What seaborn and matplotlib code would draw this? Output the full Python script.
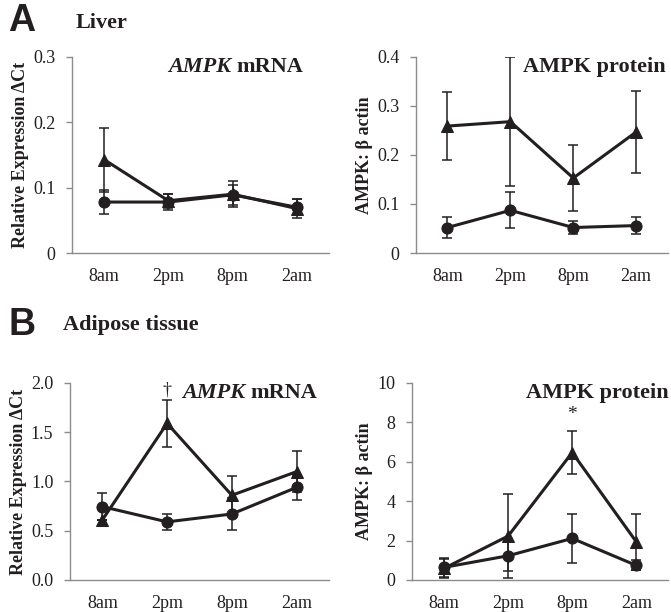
import numpy as np
import pandas as pd
import matplotlib
matplotlib.use("Agg")
import matplotlib.pyplot as plt
import seaborn as sns

sns.set_style("white")
plt.rcParams['font.family'] = ['Liberation Serif', 'DejaVu Serif']

times = ["8am", "2pm", "8pm", "2am"]

# liver mRNA
liv_mrna_tri = [0.143, 0.080, 0.090, 0.068]
liv_mrna_tri_err = [0.049, 0.011, 0.020, 0.015]
liv_mrna_cir = [0.078, 0.078, 0.089, 0.070]
liv_mrna_cir_err = [0.019, 0.012, 0.015, 0.012]

# liver protein
liv_prot_tri = [0.259, 0.268, 0.153, 0.247]
liv_prot_tri_err = [0.070, 0.131, 0.068, 0.084]
liv_prot_cir = [0.052, 0.087, 0.052, 0.056]
liv_prot_cir_err = [0.022, 0.037, 0.014, 0.017]

# adipose mRNA
adi_mrna_tri = [0.61, 1.59, 0.86, 1.10]
adi_mrna_tri_err = [0.0, 0.235, 0.20, 0.21]
adi_mrna_cir = [0.745, 0.59, 0.67, 0.94]
adi_mrna_cir_err = [0.135, 0.08, 0.16, 0.13]

# adipose protein
adi_prot_tri = [0.59, 2.23, 6.47, 1.94]
adi_prot_tri_err = [0.5, 2.15, 1.1, 1.42]
adi_prot_cir = [0.64, 1.23, 2.11, 0.74]
adi_prot_cir_err = [0.5, 0.75, 1.24, 0.25]

TXT = "#231f20"
SPINE = "#8c8c8c"


def panel(ax, tri, tri_err, cir, cir_err, ymax, yticks, yfmt, ylabel, ylsize,
          title_it, title_rest, title_x):
    x = np.arange(len(times))
    for vals, errs, mk in [(cir, cir_err, "o"), (tri, tri_err, "^")]:
        ax.errorbar(x, vals, yerr=errs, fmt="none", ecolor=TXT, elinewidth=1.1,
                    capsize=3.5, capthick=1.1, zorder=2)
        df = pd.DataFrame({"x": x, "y": vals})
        sns.lineplot(data=df, x="x", y="y", ax=ax, color=TXT, lw=2.2, marker=mk,
                     markersize=8, markeredgecolor=TXT, zorder=3)
    ax.set_xlim(-0.5, 3.5)
    ax.set_ylim(0, ymax)
    ax.set_xticks(x)
    ax.set_xticklabels(times)
    ax.set_xticks(np.arange(-0.5, 4.0, 1.0), minor=True)
    ax.tick_params(axis="x", which="major", length=0, pad=11, labelsize=13, labelcolor=TXT)
    ax.tick_params(axis="x", which="minor", length=5, width=1, color=SPINE, direction="out")
    ax.set_yticks(yticks)
    ax.set_yticklabels([yfmt(v) for v in yticks])
    ax.tick_params(axis="y", length=4, width=1, color=SPINE, direction="out", labelsize=13,
                   labelcolor=TXT, left=True, pad=8)
    for s in ["top", "right"]:
        ax.spines[s].set_visible(False)
    for s in ["left", "bottom"]:
        ax.spines[s].set_color(SPINE)
        ax.spines[s].set_linewidth(1)
    ax.set_xlabel("")
    ax.set_ylabel(ylabel, fontsize=ylsize, fontweight="bold", color=TXT, labelpad=3)
    t = ax.text(title_x, 1.0, title_rest, transform=ax.transAxes, ha="right", va="top",
                fontsize=16, fontweight="bold", color=TXT)
    if title_it:
        ax.figure.canvas.draw()
        bb = t.get_window_extent().transformed(ax.transAxes.inverted())
        ax.text(bb.x0, 1.0, title_it + " ", transform=ax.transAxes, ha="right", va="top",
                fontsize=16, fontweight="bold", style="italic", color=TXT)


fig = plt.figure(figsize=(6.71, 6.12), dpi=100)
ax1 = fig.add_axes([0.1073, 0.5866, 0.383, 0.3203])
ax2 = fig.add_axes([0.620, 0.5866, 0.375, 0.3203])
ax3 = fig.add_axes([0.1043, 0.0523, 0.386, 0.3219])
ax4 = fig.add_axes([0.614, 0.0523, 0.382, 0.3219])

panel(ax1, liv_mrna_tri, liv_mrna_tri_err, liv_mrna_cir, liv_mrna_cir_err, 0.3,
      [0, 0.1, 0.2, 0.3], lambda v: "0" if v == 0 else f"{v:.1f}",
      "Relative Expression \u0394Ct", 13, "AMPK", "mRNA", 0.9)
panel(ax2, liv_prot_tri, liv_prot_tri_err, liv_prot_cir, liv_prot_cir_err, 0.4,
      [0, 0.1, 0.2, 0.3, 0.4], lambda v: "0" if v == 0 else f"{v:.1f}",
      "AMPK: \u03b2 actin", 13, None, "AMPK protein", 0.99)
panel(ax3, adi_mrna_tri, adi_mrna_tri_err, adi_mrna_cir, adi_mrna_cir_err, 2.0,
      [0, 0.5, 1.0, 1.5, 2.0], lambda v: f"{v:.1f}",
      "Relative Expression \u0394Ct", 13, "AMPK", "mRNA", 0.955)
panel(ax4, adi_prot_tri, adi_prot_tri_err, adi_prot_cir, adi_prot_cir_err, 10,
      [0, 2, 4, 6, 8, 10], lambda v: f"{v:d}",
      "AMPK: \u03b2 actin", 13, None, "AMPK protein", 1.0)

# significance marks
ax3.text(1, 1.93, "\u2020", ha="center", va="center", fontsize=13, color=TXT)
ax4.text(2, 8.4, "*", ha="center", va="center", fontsize=14, color=TXT)

# panel letters and headings
fig.text(0.012, 0.965, "A", fontsize=27, fontweight="bold", family="Liberation Sans",
         color=TXT, va="center")
fig.text(0.112, 0.962, "Liver", fontsize=16, fontweight="bold", color=TXT, va="center")
fig.text(0.012, 0.469, "B", fontsize=27, fontweight="bold", family="Liberation Sans",
         color=TXT, va="center")
fig.text(0.094, 0.469, "Adipose tissue", fontsize=16, fontweight="bold", color=TXT,
         va="center")

fig.savefig("out.png", dpi=100)
